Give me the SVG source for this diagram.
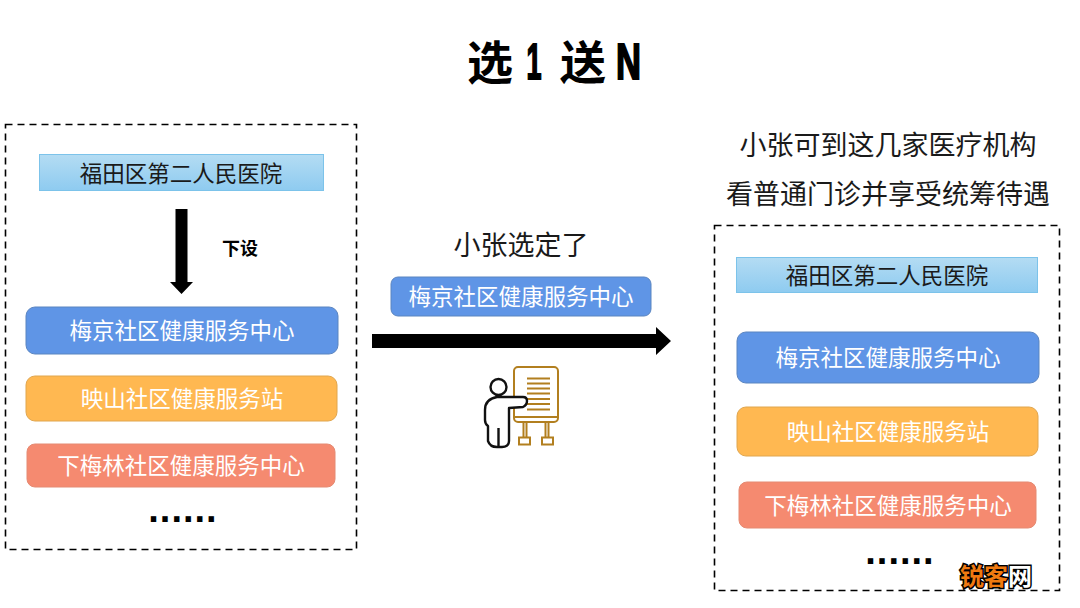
<svg xmlns="http://www.w3.org/2000/svg" width="1080" height="608" viewBox="0 0 1080 608">
<defs>
<linearGradient id="sky" x1="0" y1="0" x2="0" y2="1"><stop offset="0" stop-color="#b4dcf3"/><stop offset="1" stop-color="#8ecbf0"/></linearGradient>
</defs>
<style>
text{font-family:"Liberation Sans","Noto Sans CJK SC",sans-serif;text-anchor:middle}
.t{font-size:22.500px;fill:#1a1a1a}
.h{font-size:27px;fill:#1a1a1a}
.w{font-size:22.500px;fill:#fff}
.big{font-size:46px;font-weight:bold;fill:#000}
.narrow{font-size:50px;stroke:#000;stroke-width:2}
.dots{font-size:38px;font-weight:bold;fill:#000;letter-spacing:1px}
.frame{fill:none;stroke:#000;stroke-width:1.600;stroke-dasharray:7 5}
.sky{fill:url(#sky);stroke:#7cc3ea;stroke-width:1}
.blue{fill:#5f95e6;stroke:#5b85c0;stroke-width:1}
.gold{fill:#ffb851;stroke:#e0a64f;stroke-width:1}
.red{fill:#f58a70;stroke:#e58a72;stroke-width:1}
.brown{fill:none;stroke:#b27f1f;stroke-width:2}
.man{fill:#fff;stroke:#111;stroke-width:2.400;stroke-linejoin:round}
.wm{font-size:24px;font-weight:bold;stroke:#000;stroke-width:3;paint-order:stroke}
</style>
<rect width="1080" height="608" fill="#fff"/>
<g id="title">
<text class="big" x="490" y="79">选</text>
<text class="big narrow" x="534" y="79" textLength="15" lengthAdjust="spacingAndGlyphs">1</text>
<text class="big" x="583" y="79">送</text>
<text class="big narrow" x="628.500" y="79" textLength="25" lengthAdjust="spacingAndGlyphs">N</text>
</g>
<g id="left-frame"><rect class="frame" x="5.500" y="124.500" width="351" height="425"/></g>
<g id="right-frame"><rect class="frame" x="714.500" y="225.500" width="345" height="365"/></g>
<g id="left-hospital"><rect class="sky" x="39.500" y="154.500" width="284" height="36"/><text class="t" x="181" y="182">福田区第二人民医院</text></g>
<g id="left-meijing"><rect class="blue" x="26" y="307" width="312" height="47" rx="9"/><text class="w" x="182" y="339">梅京社区健康服务中心</text></g>
<g id="left-yingshan"><rect class="gold" x="26" y="376" width="311" height="45" rx="9"/><text class="w" x="182" y="407">映山社区健康服务站</text></g>
<g id="left-xiameilin"><rect class="red" x="27" y="444" width="308" height="43" rx="8"/><text class="w" x="181" y="474">下梅林社区健康服务中心</text></g>
<text id="left-dots" class="dots" x="183" y="522">......</text>
<text id="xiashe" x="240" y="255" font-size="18" font-weight="bold" fill="#000">下设</text>
<g id="middle">
<text class="h" x="521" y="255">小张选定了</text>
<rect class="blue" x="391" y="277" width="260" height="39" rx="7"/><text class="w" x="521" y="305">梅京社区健康服务中心</text>
</g>
<g id="connectors">
<polygon points="175.500,209 187.500,209 187.500,282 193,282 181.500,294 170,282 175.500,282" fill="#000"/>
<polygon points="372,334 656,334 656,327 671,341 656,355 656,348 372,348" fill="#000"/>
</g>
<g id="presenter">
<rect class="brown" x="514" y="367" width="44" height="55" rx="4"/>
<path class="brown" d="M514 417H558M527 378.500H550M527 383.500H550M527 388.500H550M527 393.500H550M527 399H550M527 404H550M527 409.500H550M523.500 423V437M526.500 423V437M545.500 423V437M548.500 423V437"/>
<rect class="brown" x="519" y="437.500" width="11" height="7"/><rect class="brown" x="542" y="437.500" width="11" height="7"/>
<circle class="man" cx="498.500" cy="387" r="8"/>
<path class="man" d="M527 401Q527 397 523 397L497 397Q485 399 485 410V420Q485 424 488 426V441Q490 447 497 447H502Q509 447 509 441V408L523 407Q527 405 527 401ZM498.500 428V447"/>
</g>
<g id="right-heading"><text class="h" x="888" y="155">小张可到这几家医疗机构</text><text class="h" x="888" y="204">看普通门诊并享受统筹待遇</text></g>
<g id="right-hospital"><rect class="sky" x="736.500" y="257.500" width="301" height="35"/><text class="t" x="887" y="284">福田区第二人民医院</text></g>
<g id="right-meijing"><rect class="blue" x="737" y="332" width="302" height="51" rx="9"/><text class="w" x="888" y="366">梅京社区健康服务中心</text></g>
<g id="right-yingshan"><rect class="gold" x="737" y="407" width="301" height="49" rx="9"/><text class="w" x="888" y="440">映山社区健康服务站</text></g>
<g id="right-xiameilin"><rect class="red" x="739" y="482" width="297" height="46" rx="8"/><text class="w" x="888" y="514">下梅林社区健康服务中心</text></g>
<text id="right-dots" class="dots" x="900" y="564">......</text>
<text id="watermark" class="wm" x="996" y="585"><tspan fill="#f07a10">锐客</tspan><tspan fill="#fff">网</tspan></text>
</svg>
